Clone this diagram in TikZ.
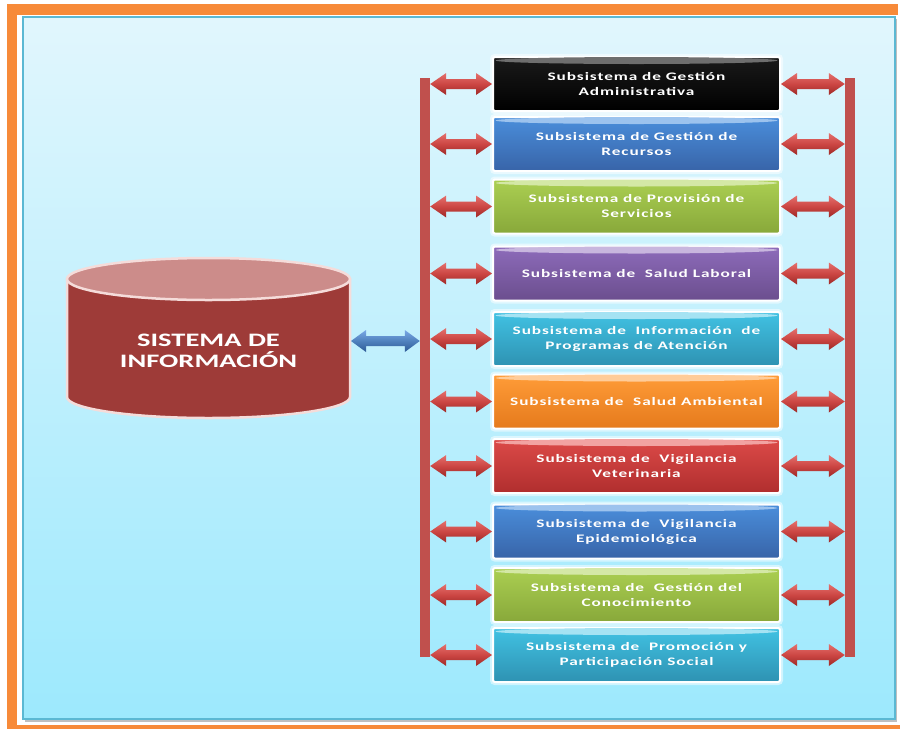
\documentclass[tikz,border=0pt]{standalone}
\usepackage{fontspec}
\setmainfont{Carlito}
\newfontfamily\subfont[FakeStretch=1.5,LetterSpace=8]{Carlito}
\newfontfamily\titfont[FakeStretch=1.5]{Carlito}
\usetikzlibrary{calc}
\definecolor{panT}{HTML}{E1F6FD}
\definecolor{panB}{HTML}{9DE9FD}
\definecolor{panEdge}{HTML}{5BB8D3}
\definecolor{frameOr}{HTML}{F78A39}
\definecolor{blkT}{HTML}{1A1A1A}\definecolor{blkB}{HTML}{000000}\definecolor{blkE}{HTML}{6E6E6E}
\definecolor{bluT}{HTML}{4A8EDB}\definecolor{bluB}{HTML}{3864A8}\definecolor{bluE}{HTML}{9CC3EE}
\definecolor{grnT}{HTML}{ABCF52}\definecolor{grnB}{HTML}{88A83A}\definecolor{grnE}{HTML}{D4E8A6}
\definecolor{purT}{HTML}{8D6BBA}\definecolor{purB}{HTML}{6B4E8E}\definecolor{purE}{HTML}{C8B6DE}
\definecolor{aquT}{HTML}{41C2E3}\definecolor{aquB}{HTML}{2E92B2}\definecolor{aquE}{HTML}{A5E3F3}
\definecolor{orgT}{HTML}{FF9C38}\definecolor{orgB}{HTML}{E57A1C}\definecolor{orgE}{HTML}{FFCC99}
\definecolor{redT}{HTML}{DC4A48}\definecolor{redB}{HTML}{B02E2E}\definecolor{redE}{HTML}{F2A3A2}
\definecolor{barC}{HTML}{C0504D}
\definecolor{arrT}{HTML}{E4706D}\definecolor{arrM}{HTML}{CC4643}\definecolor{arrB}{HTML}{9E2A28}
\definecolor{barT}{HTML}{7AA8E6}\definecolor{barM}{HTML}{4F81BD}\definecolor{barB}{HTML}{2D5A96}
\definecolor{cylBody}{HTML}{9E3B38}\definecolor{cylTop}{HTML}{CC8C8A}\definecolor{cylEdge}{HTML}{F5DCDA}
\tikzset{
  subbox/.style={minimum width=287pt, minimum height=54pt, rounded corners=2pt,
    draw=white, line width=2pt, text=white, align=center, inner sep=0pt,
    font=\subfont\bfseries\fontsize{11.5}{15}\selectfont,
    preaction={draw=white, opacity=0.5, line width=6pt}},
  vbar/.style={fill=barC, minimum width=10pt, minimum height=579pt, inner sep=0pt},
  redarrow/.style={top color=arrT, bottom color=arrB, middle color=arrM},
  bluearrow/.style={top color=barT, bottom color=barB, middle color=barM},
}
% double block arrow between two points on one horizontal line
\newcommand{\dblarr}[6]{% from, to, style, head length, head half height, shaft half height
  \path[#3] let \p1=#1, \p2=#2 in
    (\x1,\y1) -- (\x1+#4,\y1+#5) -- (\x1+#4,\y1+#6) -- (\x2-#4,\y1+#6)
    -- (\x2-#4,\y1+#5) -- (\x2,\y1) -- (\x2-#4,\y1-#5) -- (\x2-#4,\y1-#6)
    -- (\x1+#4,\y1-#6) -- (\x1+#4,\y1-#5) -- cycle;}
\newcommand{\subsys}[4]{% name, y, colour prefix, text
  \node[subbox, top color=#3T, bottom color=#3B] (#1) at (636.5,#2) {#4};
  \fill[#3E] ([yshift=-4.5pt]#1.north) ellipse [x radius=141pt, y radius=3.5pt];
  \dblarr{(lbar.east |- #1.west)}{(#1.west)}{redarrow}{16pt}{11pt}{5pt}
  \dblarr{(#1.east)}{(rbar.west |- #1.east)}{redarrow}{16pt}{11pt}{5pt}
}
\begin{document}
\begin{tikzpicture}[x=1pt,y=-1pt]
\useasboundingbox (0,0) rectangle (900,729);
\fill[white] (0,0) rectangle (900,729);
% orange frame
\fill[frameOr] (7,4) rectangle (898,15);
\fill[frameOr] (7,4) rectangle (17,729);
\fill[frameOr] (7,725) rectangle (900,729);
% panel
\fill[black!25] (25,19) rectangle (897,722);
\shade[top color=panT, bottom color=panB, draw=panEdge, line width=1.2pt] (23,17) rectangle (895,719);
% bars
\node[vbar] (lbar) at (425,367.5) {};
\node[vbar] (rbar) at (850,367.5) {};
% main cylinder
\fill[cylBody, draw=cylEdge, line width=2.5pt] (67,279) -- (67,397)
  arc[start angle=180, end angle=360, x radius=141.5pt, y radius=21pt] -- (350,279) -- cycle;
\fill[cylTop, draw=cylEdge, line width=2.5pt] (208.5,279) ellipse [x radius=141.5pt, y radius=21pt];
\node[text=white, align=center, font=\titfont\bfseries\fontsize{19}{21}\selectfont] (sys) at (208.5,351) {SISTEMA DE\\INFORMACIÓN};
\coordinate (cylR) at (351,341);
\dblarr{(cylR)}{(lbar.west |- cylR)}{bluearrow}{15pt}{11pt}{5pt}
% subsystems
\subsys{b1}{84}{blk}{Subsistema de Gestión\\Administrativa}
\subsys{b2}{144}{blu}{Subsistema de Gestión de\\Recursos}
\subsys{b3}{206.5}{grn}{Subsistema de Provisión de\\Servicios}
\subsys{b4}{273.5}{pur}{Subsistema de~ Salud Laboral}
\subsys{b5}{339}{aqu}{Subsistema de~ Información~ de\\Programas de Atención}
\subsys{b6}{401.5}{org}{Subsistema de~ Salud Ambiental}
\subsys{b7}{466}{red}{Subsistema de~ Vigilancia\\Veterinaria}
\subsys{b8}{531.5}{blu}{Subsistema de~ Vigilancia\\Epidemiológica}
\subsys{b9}{595}{grn}{Subsistema de~ Gestión del\\Conocimiento}
\subsys{b10}{655}{aqu}{Subsistema de~ Promoción y\\Participación Social}
\end{tikzpicture}
\end{document}
